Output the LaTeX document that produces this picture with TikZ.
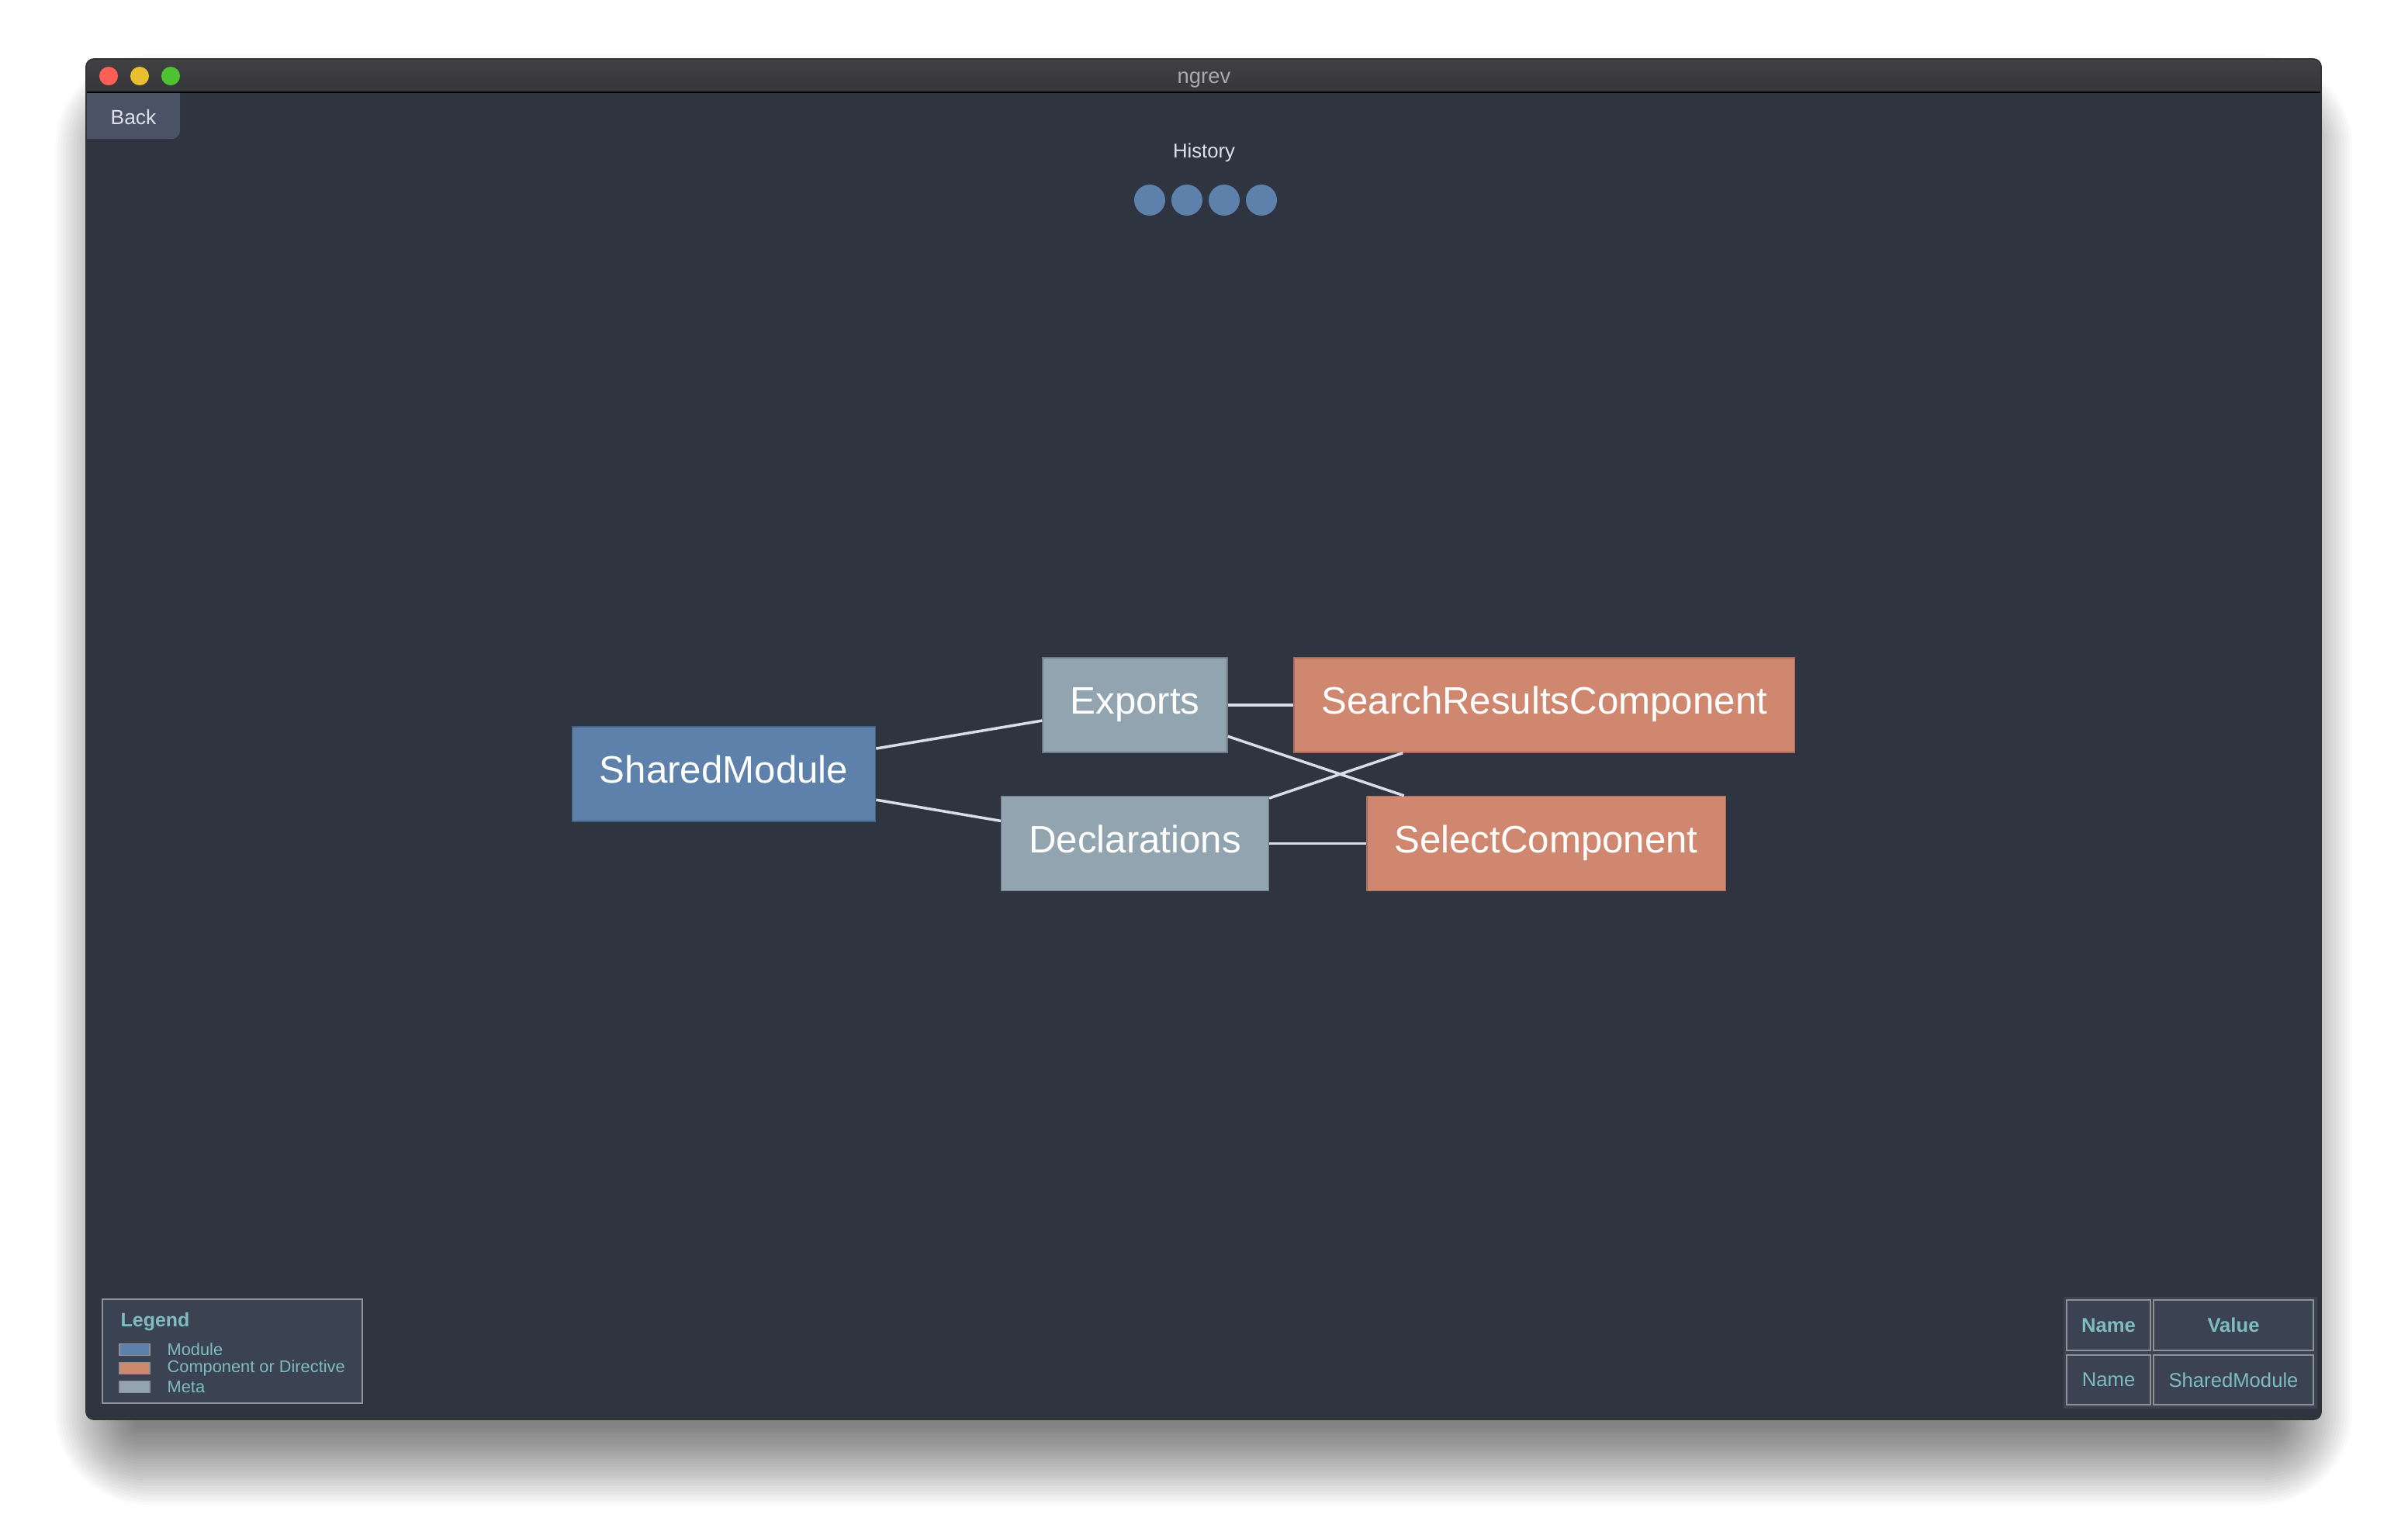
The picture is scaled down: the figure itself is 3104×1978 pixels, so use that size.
\documentclass[tikz,border=0pt]{standalone}
\usepackage{fontspec}
\setmainfont{Liberation Sans}
\usepackage{tikz}
\usetikzlibrary{positioning}

\definecolor{winbg}{HTML}{2E3440}
\definecolor{barTop}{HTML}{414144}
\definecolor{barBot}{HTML}{363638}
\definecolor{backbg}{HTML}{4A5366}
\definecolor{panelbg}{HTML}{3B4252}
\definecolor{panelline}{HTML}{8E9196}
\definecolor{tealtxt}{HTML}{7FBCBF}
\definecolor{lighttxt}{HTML}{DCE1EA}
\definecolor{titletxt}{HTML}{A9A9AB}
\definecolor{modcol}{HTML}{5E81AC}
\definecolor{compcol}{HTML}{D08770}
\definecolor{metacol}{HTML}{92A4B0}
\definecolor{linkcol}{HTML}{D8DEE9}
\definecolor{closecol}{HTML}{FF5F57}
\definecolor{mincol}{HTML}{E8BF2E}
\definecolor{maxcol}{HTML}{4EC232}

\begin{document}
\begin{tikzpicture}[x=0.01cm, y=-0.01cm, node distance=5mm,
	box/.style={draw, rectangle, text=white, font=\fontsize{14}{16}\selectfont,
		minimum height=12.2mm, inner xsep=3.55mm, text height=10pt, text depth=3.2pt, line width=0.4pt},
	module/.style={box, fill=modcol, draw=modcol!75!black},
	comp/.style={box, fill=compcol, draw=compcol!80!black},
	meta/.style={box, fill=metacol, draw=metacol!75!black},
	link/.style={draw=linkcol, line width=1pt},
	histdot/.style={circle, fill=modcol, minimum size=4mm, inner sep=0pt},
	swatch/.style={draw=panelline, line width=0.4pt, minimum width=3.9mm, minimum height=1.5mm, inner sep=0pt},
	legendtxt/.style={text=tealtxt, font=\fontsize{6.2}{7.5}\selectfont, inner sep=0pt, anchor=west},
	cell/.style={draw=panelline, line width=0.4pt, text=tealtxt, font=\fontsize{7.3}{9}\selectfont, inner sep=0pt},
	light/.style={circle, minimum size=2.4mm, inner sep=0pt}
	]
	\useasboundingbox (0,0) rectangle (3104,1978);
	\fill[white] (0,0) rectangle (3104,1978);

	% window shadow
	\foreach \s in {1,...,30}{
		\pgfmathsetmacro\rr{0.4*\s}
		\fill[black, opacity=0.018, rounded corners=\rr mm] (176-3.5*\s,176-3.5*\s) rectangle (2927+3.5*\s,1835+3.5*\s);
	}

	% window
	\fill[winbg, rounded corners=1mm] (111,76) rectangle (2992,1830);
	\begin{scope}
		\clip[rounded corners=1mm] (111,76) rectangle (2992,1830);
		\shade[top color=barTop, bottom color=barBot] (111,76) rectangle (2992,119);
		\fill[backbg] (111,119) -- (232,119) -- (232,169) arc[start angle=0, end angle=-90, radius=1mm] -- (111,179) -- cycle;
	\end{scope}
	\draw[black, line width=0.5pt] (111,119) -- (2992,119);
	\draw[black!80, line width=0.5pt, rounded corners=1mm] (111,76) rectangle (2992,1830);

	\node[light, fill=closecol] (close) at (140,98) {};
	\node[light, fill=mincol] (minimise) at (180,98) {};
	\node[light, fill=maxcol] (maximise) at (220,98) {};
	\node[text=titletxt, font=\fontsize{7.8}{9}\selectfont, anchor=base] (title) at (1552,107) {ngrev};
	\node[text=lighttxt, font=\fontsize{7.5}{9}\selectfont, anchor=base] (back) at (172,160) {Back};

	% history
	\node[text=lighttxt, font=\fontsize{7.3}{9}\selectfont, anchor=base] (history) at (1552,203) {History};
	\foreach \i in {0,...,3}
		\node[histdot] (h\i) at (1482+48*\i,258) {};

	% graph
	\node[meta] (exports) at (1463,909) {Exports};
	\node[meta] (decl) [below=5.5mm of exports] {Declarations};
	\node[comp] (search) [right=8.45mm of exports] {SearchResultsComponent};
	\node[comp] (select) [right=12.5mm of decl] {SelectComponent};
	\node[module] (shared) at (933,998) {SharedModule};

	\path[link] (shared) -- (exports);
	\path[link] (shared) -- (decl);
	\path[link] (exports) -- (search);
	\path[link] (exports) -- (select);
	\path[link] (decl) -- (search);
	\path[link] (decl) -- (select);

	% legend
	\draw[fill=panelbg, draw=panelline, line width=0.4pt] (132,1675) rectangle (467,1809);
	\node[text=tealtxt, font=\bfseries\fontsize{7.1}{9}\selectfont, anchor=base west, inner sep=0pt] (legend) at (155,1710) {Legend};
	\node[swatch, fill=modcol] (swmod) at (173.5,1740) {};
	\node[swatch, fill=compcol] (swcomp) at (173.5,1764) {};
	\node[swatch, fill=metacol] (swmeta) at (173.5,1788) {};
	\node[legendtxt] (lmod) at (215,1740) {Module};
	\node[legendtxt] (lcomp) at (215,1764) {Component or Directive};
	\node[legendtxt] (lmeta) at (215,1788) {Meta};

	% property table
	\fill[panelbg] (2660,1672) rectangle (2987,1816);
	\node[cell, font=\bfseries\fontsize{7.3}{9}\selectfont, minimum width=10.8mm, minimum height=6.5mm] (nameh) at (2718,1708.5) {Name};
	\node[cell, font=\bfseries\fontsize{7.3}{9}\selectfont, minimum width=20.6mm, minimum height=6.5mm] (valueh) at (2879,1708.5) {Value};
	\node[cell, minimum width=10.8mm, minimum height=6.4mm] (namec) at (2718,1779) {Name};
	\node[cell, minimum width=20.6mm, minimum height=6.4mm] (valuec) at (2879,1779) {SharedModule};
\end{tikzpicture}
\end{document}
